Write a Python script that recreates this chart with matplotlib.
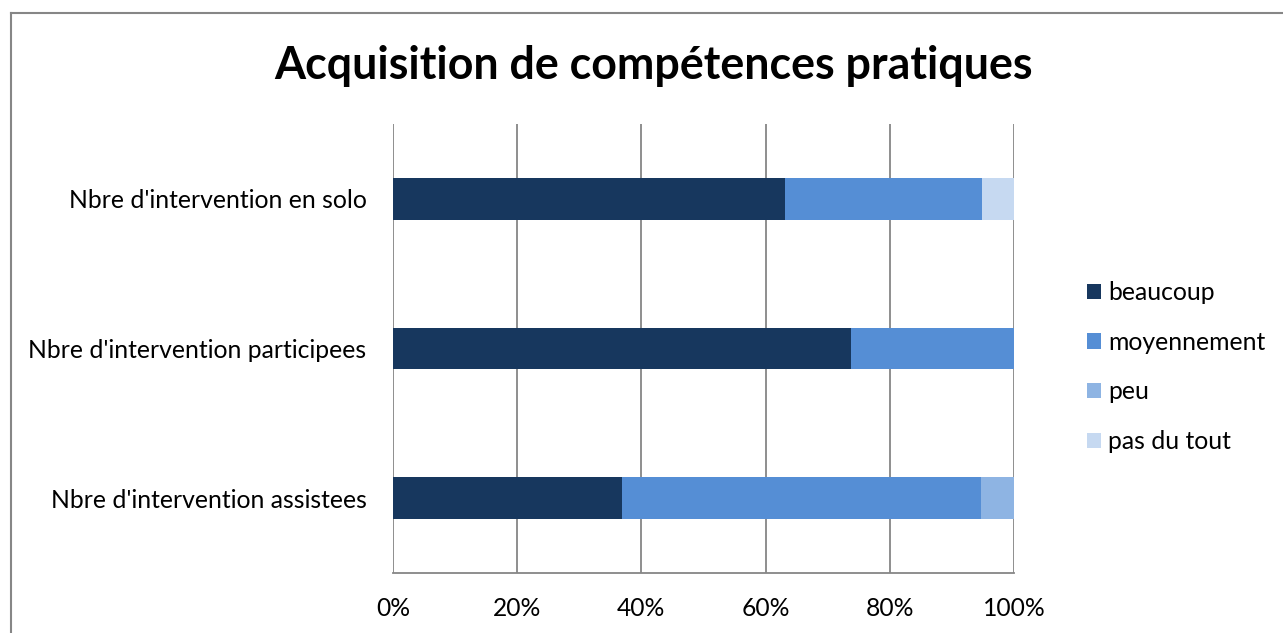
import matplotlib
matplotlib.use("Agg")
import matplotlib.pyplot as plt
from matplotlib.lines import Line2D
from matplotlib.patches import Patch
import numpy as np

# data: percentages (n = 19 per row), bottom row first
categories = ["Nbre d'intervention assistees",
              "Nbre d'intervention participees",
              "Nbre d'intervention en solo"]
series = ["beaucoup", "moyennement", "peu", "pas du tout"]
beaucoup = [36.8, 73.7, 63.2]
moyennement = [57.9, 26.3, 31.6]
peu = [5.3, 0.0, 0.0]
pas_du_tout = [0.0, 0.0, 5.3]
colors = ["#17375E", "#558ED5", "#8EB4E3", "#C6D9F1"]
xticks = [0, 20, 40, 60, 80, 100]

plt.rcParams['font.family'] = ['Lato', 'DejaVu Sans']

fig = plt.figure(figsize=(12.83, 6.33), dpi=100)
ax = fig.add_axes([0.3063, 0.0948, 0.4840, 0.7093])

y = np.arange(len(categories))
left = np.zeros(len(categories))
for vals, col in zip([beaucoup, moyennement, peu, pas_du_tout], colors):
    ax.barh(y, vals, left=left, height=0.28, color=col, zorder=3)
    left += np.array(vals)

ax.set_xlim(0, 100)
ax.set_ylim(-0.5, 2.5)
ax.set_xticks(xticks)
ax.set_xticklabels([f"{t}%" for t in xticks], fontsize=17.7)
ax.set_yticks(y)
ax.set_yticklabels(categories, fontsize=17.8)
ax.tick_params(axis='x', length=0, pad=17)
ax.tick_params(axis='y', length=0, pad=19)
ax.grid(axis='x', color='#868686', linewidth=1.3, zorder=0)
for s in ['top', 'right', 'left']:
    ax.spines[s].set_visible(False)
ax.spines['bottom'].set_color('#868686')
ax.spines['bottom'].set_linewidth(1.3)

handles = [Patch(facecolor=c, edgecolor='none') for c in colors]
fig.legend(handles, series, loc='center left', bbox_to_anchor=(0.8472, 0.42),
           frameon=False, fontsize=17.8, handlelength=0.57, handleheight=0.57,
           handletextpad=0.3, labelspacing=1.08, borderpad=0, borderaxespad=0)

fig.text(0.509, 0.895, "Acquisition de compétences pratiques", ha='center',
         va='center', fontsize=32.2, fontweight='bold')

# chart area border (cropped on right and bottom)
fig.add_artist(Line2D([11/1283, 1], [1 - 13/633] * 2, color='#868686', lw=1.5))
fig.add_artist(Line2D([11/1283] * 2, [0, 1 - 13/633], color='#868686', lw=1.5))

fig.savefig("out.png", dpi=100)
